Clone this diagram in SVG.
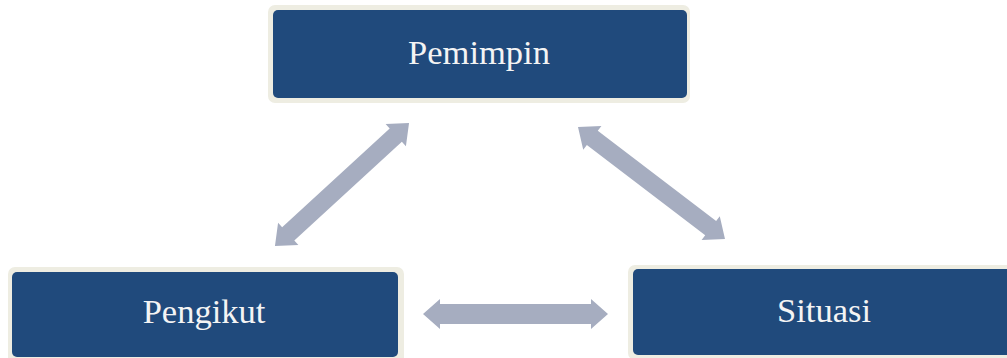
<svg xmlns="http://www.w3.org/2000/svg" width="1007" height="358" viewBox="0 0 1007 358">
<style>
.outer{fill:#EEEDE2}
.inner{fill:#204A7C}
.lbl{font-family:"Liberation Serif","Times New Roman",serif;font-size:34.5px;fill:#F4F4F4;text-anchor:middle}
.arr{fill:#A6ADC0}
</style>
<rect width="1007" height="358" fill="#FFFFFF"/>
<g id="connectors">
<path class="arr" transform="translate(342,184.5) rotate(-42.55)" d="M-91,0 L-73,-15 L-73,-9 L73,-9 L73,-15 L91,0 L73,15 L73,9 L-73,9 L-73,15 Z"/>
<path class="arr" transform="translate(651.5,183) rotate(37.3)" d="M-92.4,0 L-74.4,-15 L-74.4,-9 L74.4,-9 L74.4,-15 L92.4,0 L74.4,15 L74.4,9 L-74.4,9 L-74.4,15 Z"/>
<path class="arr" transform="translate(515.5,314)" d="M-92.5,0 L-75.5,-15 L-75.5,-10 L75.5,-10 L75.5,-15 L92.5,0 L75.5,15 L75.5,10 L-75.5,10 L-75.5,15 Z"/>
</g>
<g id="pemimpin">
<rect class="outer" x="268" y="5" width="422" height="98" rx="7"/>
<rect class="inner" x="273" y="10" width="414" height="88" rx="5"/>
<text class="lbl" x="479" y="64">Pemimpin</text>
</g>
<g id="pengikut">
<rect class="outer" x="8" y="267" width="396" height="100" rx="7"/>
<rect class="inner" x="12" y="272" width="386" height="85" rx="5"/>
<text class="lbl" x="204" y="323">Pengikut</text>
</g>
<g id="situasi">
<rect class="outer" x="628" y="265" width="400" height="95" rx="7"/>
<rect class="inner" x="633" y="269" width="390" height="86" rx="5"/>
<text class="lbl" x="824" y="322">Situasi</text>
</g>
</svg>
